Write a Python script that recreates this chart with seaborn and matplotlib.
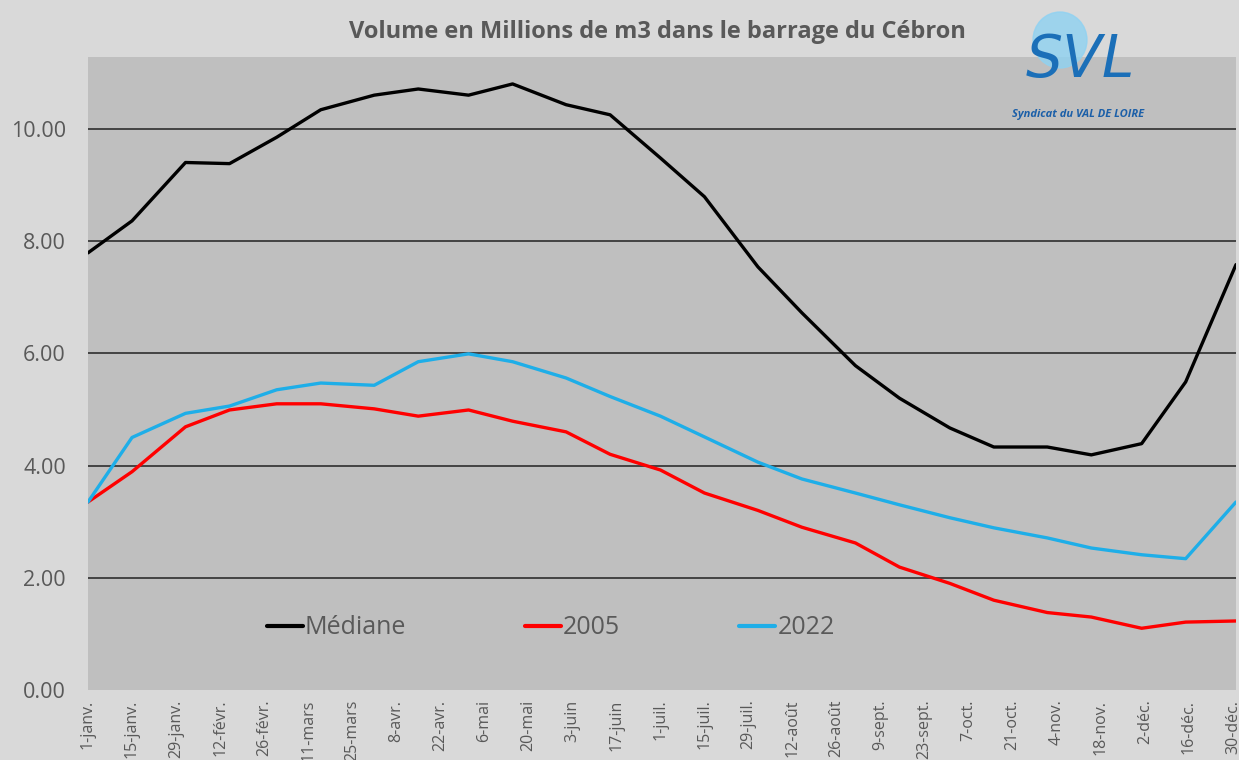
import matplotlib
matplotlib.use("Agg")
import matplotlib.pyplot as plt
import matplotlib.patches as mpatches
import seaborn as sns
import pandas as pd

# ---------------- data ----------------
dates = ["2024-01-01", "2024-01-15", "2024-02-01", "2024-02-15", "2024-03-01",
         "2024-03-15", "2024-04-01", "2024-04-15", "2024-05-01", "2024-05-15",
         "2024-06-01", "2024-06-15", "2024-07-01", "2024-07-15", "2024-08-01",
         "2024-08-15", "2024-09-01", "2024-09-15", "2024-10-01", "2024-10-15",
         "2024-11-01", "2024-11-15", "2024-12-01", "2024-12-15", "2024-12-31"]

mediane = [7.79, 8.36, 9.40, 9.38, 9.85, 10.34, 10.60, 10.71, 10.60, 10.80,
           10.43, 10.25, 9.48, 8.79, 7.54, 6.72, 5.78, 5.20, 4.67, 4.33,
           4.33, 4.19, 4.39, 5.49, 7.58]
serie_2005 = [3.35, 3.89, 4.69, 4.99, 5.10, 5.10, 5.01, 4.88, 4.99, 4.79,
              4.60, 4.20, 3.92, 3.51, 3.20, 2.90, 2.62, 2.19, 1.90, 1.60,
              1.38, 1.30, 1.10, 1.21, 1.23]
serie_2022 = [3.35, 4.50, 4.93, 5.06, 5.35, 5.47, 5.43, 5.85, 5.99, 5.85,
              5.56, 5.23, 4.88, 4.51, 4.06, 3.76, 3.51, 3.30, 3.07, 2.89,
              2.71, 2.53, 2.41, 2.34, 3.35]

series_names = ["Médiane", "2005", "2022"]
series_colors = ["#000000", "#ff0000", "#1eaee8"]

tick_labels = ["1-janv.", "15-janv.", "29-janv.", "12-févr.", "26-févr.", "11-mars",
               "25-mars", "8-avr.", "22-avr.", "6-mai", "20-mai", "3-juin",
               "17-juin", "1-juil.", "15-juil.", "29-juil.", "12-août", "26-août",
               "9-sept.", "23-sept.", "7-oct.", "21-oct.", "4-nov.", "18-nov.",
               "2-déc.", "16-déc.", "30-déc."]
y_ticks = [0, 2, 4, 6, 8, 10]

title = "Volume en Millions de m3 dans le barrage du Cébron"

# ---------------- frame ----------------
rows = []
for name, vals in zip(series_names, [mediane, serie_2005, serie_2022]):
    for d, v in zip(dates, vals):
        rows.append({"date": pd.Timestamp(d), "volume": v, "serie": name})
df = pd.DataFrame(rows)

sns.set_style("white")
plt.rcParams["font.family"] = ["Open Sans", "DejaVu Sans"]

fig = plt.figure(figsize=(12.39, 7.60), dpi=100, facecolor="#d9d9d9")
ax = fig.add_axes([88 / 1239, 1 - 690 / 760, (1236 - 88) / 1239, (690 - 57) / 760])
ax.set_facecolor("#bfbfbf")

# grid lines
for yv in y_ticks[1:]:
    ax.axhline(yv, color="#3a3a3a", lw=1.3, zorder=1)

sns.lineplot(data=df, x="date", y="volume", hue="serie", hue_order=series_names,
             palette=series_colors, lw=2.4, ax=ax, zorder=3, legend=True)

ax.set_xlim(pd.Timestamp("2024-01-01"), pd.Timestamp("2024-12-31"))
ax.set_ylim(0, 11.28)

tick_pos = pd.date_range("2024-01-01", periods=len(tick_labels), freq="14D")
ax.set_xticks(tick_pos)
ax.set_xticklabels(tick_labels, rotation=90, ha="center", va="top",
                   fontsize=11.5, color="#595959")
ax.set_yticks(y_ticks)
ax.set_yticklabels([f"{v:.2f}" for v in y_ticks], fontsize=15.5, color="#595959")
ax.tick_params(axis="both", length=0)
ax.tick_params(axis="x", pad=7)
ax.tick_params(axis="y", pad=16)
ax.set_xlabel("")
ax.set_ylabel("")
for s in ax.spines.values():
    s.set_visible(False)

handles, labels = ax.get_legend_handles_labels()
leg = ax.legend(handles, labels, loc="center", bbox_to_anchor=(0.403, 0.098),
                ncol=3, frameon=False, fontsize=18, handlelength=1.45,
                handletextpad=0.08, columnspacing=4.75, labelcolor="#595959")
for line in leg.get_lines():
    line.set_linewidth(3)

fig.text(0.531, 1 - 32 / 760, title, ha="center", va="center",
         fontsize=17, fontweight="bold", color="#595959")

# logo (decorative)
fig.patches.append(mpatches.Ellipse((1060 / 1239, 1 - 40 / 760), 54 / 1239, 56 / 760,
                                    transform=fig.transFigure, color="#8fd2f2",
                                    alpha=0.8, zorder=5))
fig.text(1080 / 1239, 1 - 60 / 760, "SVL", ha="center", va="center",
         fontsize=42, fontstyle="italic", color="#1b6fb8", zorder=6,
         family=["DejaVu Sans"])
fig.text(1078 / 1239, 1 - 114 / 760, "Syndicat du VAL DE LOIRE", ha="center",
         va="center", fontsize=8, fontstyle="italic", fontweight="bold",
         color="#1b5fa8", zorder=6)

fig.savefig("out.png", dpi=100, facecolor=fig.get_facecolor())
